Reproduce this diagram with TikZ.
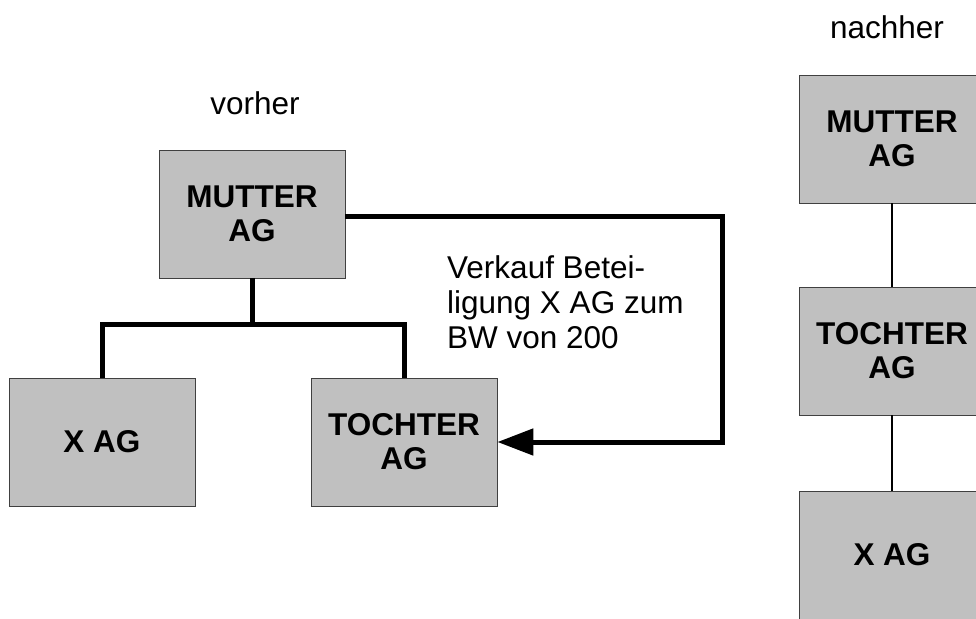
\documentclass[tikz,border=0pt]{standalone}
\usepackage{fontspec}
\setmainfont{Liberation Sans}
\usetikzlibrary{arrows.meta}
\definecolor{boxgray}{RGB}{192,192,192}

\begin{document}
\begin{tikzpicture}[x=1pt,y=-1pt,font=\fontsize{31.5}{35}\selectfont,
    firm/.style={draw=black!75,line width=0.8pt,fill=boxgray,minimum width=186pt,
        minimum height=128pt,inner sep=0pt,align=center,font=\fontsize{31.5}{34}\selectfont\bfseries},
    heavy/.style={line width=5pt}]
    \useasboundingbox (0,0) rectangle (976,618);
    \clip (0,0) rectangle (976,618);
    % vorher
    \node (vorher) at (255,103) {vorher};
    \node[firm] (mutter) at (252,214) {MUTTER\\AG};
    \node[firm] (xag) at (102,442) {X AG};
    \node[firm] (tochter) at (404,442) {TOCHTER\\AG};
    \draw[heavy] (mutter.south) -- ++(0,47);
    \draw[heavy] (xag.north) -- ++(0,-53) -| (tochter.north);
    \draw[heavy,-{Triangle[length=36pt,width=26pt]}] ([yshift=-2pt]mutter.east) -- ++(377,0) |- (tochter.east);
    \node[anchor=west,align=left,inner sep=0pt] (verkauf) at (447,302) {Verkauf Betei-\\ligung X AG zum\\BW von 200};
    % nachher
    \node (nachher) at (887,27) {nachher};
    \node[firm] (mutter2) at (892,139) {MUTTER\\AG};
    \node[firm] (tochter2) at (892,351) {TOCHTER\\AG};
    \node[firm] (xag2) at (892,555) {X AG};
    \draw[line width=1.3pt] (mutter2) -- (tochter2);
    \draw[line width=1.3pt] (tochter2) -- (xag2);
\end{tikzpicture}
\end{document}
